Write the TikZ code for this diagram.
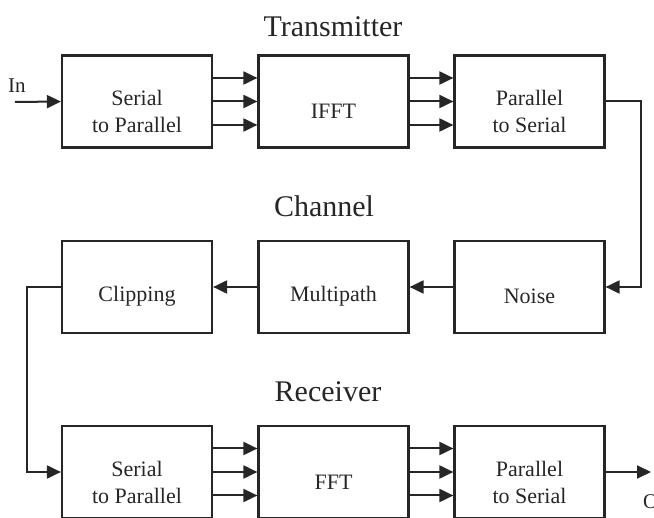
\documentclass[tikz,border=0pt]{standalone}
\usepackage{fontspec}
\setmainfont{Liberation Serif}
\usetikzlibrary{arrows.meta,calc}
\definecolor{ink}{HTML}{262626}
\tikzset{
  blk/.style={draw=ink, line width=2.2pt, minimum width=150pt, minimum height=92pt, inner sep=0pt},
  txt/.style={text=ink, align=center, font=\fontsize{22}{27}\selectfont, inner sep=0pt},
  ttl/.style={text=ink, font=\fontsize{30}{36}\selectfont, inner sep=0pt, anchor=base},
  io/.style={text=ink, font=\fontsize{21}{25}\selectfont, inner sep=0pt, anchor=base west},
  arr/.style={draw=ink, line width=2pt, -{Triangle[length=14pt,width=13pt]}},
  wire/.style={draw=ink, line width=2pt}
}
\begin{document}
\begin{tikzpicture}[x=1pt,y=-1pt]
\useasboundingbox (0,0) rectangle (654,518);
\clip (0,0) rectangle (654,518);
% titles
\node[ttl] (tt) at (333,37) {Transmitter};
\node[ttl] (tc) at (324,217) {Channel};
\node[ttl] (tr) at (328,402) {Receiver};
% boxes
\node[blk] (a1) at (137,101.5) {};
\node[blk] (a2) at (333.5,101.5) {};
\node[blk] (a3) at (529.5,101.5) {};
\node[blk] (b1) at (137,287) {};
\node[blk] (b2) at (333.5,287) {};
\node[blk] (b3) at (529.5,287) {};
\node[blk] (c1) at (137,472) {};
\node[blk] (c2) at (333.5,472) {};
\node[blk] (c3) at (529.5,472) {};
% texts
\node[txt] (a1t) at (137,111) {Serial\\to Parallel};
\node[txt] (a2t) at (333.5,111) {IFFT};
\node[txt] (a3t) at (529.5,111) {Parallel\\to Serial};
\node[txt] (b1t) at (137,296) {Clipping};
\node[txt] (b2t) at (333.5,296) {Multipath};
\node[txt] (b3t) at (529.5,296) {Noise};
\node[txt] (c1t) at (137,482) {Serial\\to Parallel};
\node[txt] (c2t) at (333.5,482) {FFT};
\node[txt] (c3t) at (529.5,482) {Parallel\\to Serial};
% io labels
\node[io] (in) at (8,93) {In};
\node[io] (out) at (643,509) {Out};
\coordinate (inS) at (15,102);
\coordinate (outE) at (651,472);
% connectors
\draw[arr] (inS) -- (a1.west);
\foreach \s in {23.5,0,-23.5}{
  \draw[arr] ([yshift=\s pt]a1.east) -- ([yshift=\s pt]a2.west);
  \draw[arr] ([yshift=\s pt]a2.east) -- ([yshift=\s pt]a3.west);
  \draw[arr] ([yshift=\s pt]c1.east) -- ([yshift=\s pt]c2.west);
  \draw[arr] ([yshift=\s pt]c2.east) -- ([yshift=\s pt]c3.west);
}
\draw[arr] (a3.east) -- ++(35,0) |- (b3.east);
\draw[arr] (b3.west) -- (b2.east);
\draw[arr] (b2.west) -- (b1.east);
\draw[arr] (b1.west) -- ++(-34,0) |- (c1.west);
\draw[arr] (c3.east) -- (outE);
\end{tikzpicture}
\end{document}
